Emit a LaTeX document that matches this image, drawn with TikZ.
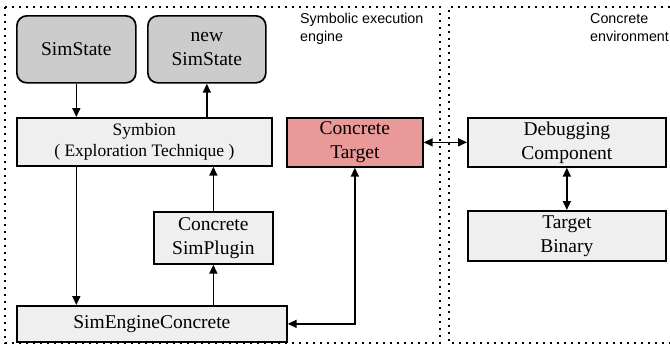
\documentclass[tikz,border=0pt]{standalone}
\usepackage{fontspec}
\setmainfont{Liberation Serif}
\newfontfamily\labelfont{Liberation Sans}
\usetikzlibrary{arrows.meta}
\definecolor{stategray}{RGB}{204,204,204}
\definecolor{boxgray}{RGB}{239,239,239}
\definecolor{targetred}{RGB}{234,153,153}
\begin{document}
\begin{tikzpicture}[x=1pt,y=1pt,
  box/.style={draw=black, line width=1.7pt, fill=boxgray, inner sep=0pt, align=center,
    anchor=north west, font=\fontsize{19.5}{24}\selectfont},
  statebox/.style={box, fill=stategray, rounded corners=10pt},
  region/.style={line width=1.8pt, dash pattern=on 1.8pt off 5.2pt},
  arr/.style={line width=1.7pt, -{Triangle[length=9pt,width=8pt]}},
  biarr/.style={line width=1.7pt, {Triangle[length=9pt,width=8pt]}-{Triangle[length=9pt,width=8pt]}},
  lbl/.style={font=\labelfont\fontsize{14.3}{18}\selectfont, align=left, anchor=north west, inner sep=0pt}]
\useasboundingbox (0,0) rectangle (670,-346);
% regions
\draw[region] (5,-7) rectangle (440,-343);
\draw[region] (670,-7) -- (449,-7) -- (449,-343) -- (670,-343);
\node[lbl] (symlbl) at (300,-13) {Symbolic execution\\engine};
\node[lbl] (conlbl) at (590,-13) {Concrete\\environment};
% boxes
\node[statebox, minimum width=119pt, minimum height=67pt] (simstate) at (16,-15) {SimState};
\node[statebox, minimum width=118pt, minimum height=67pt] (newstate) at (147,-15) {new\\SimState};
\node[box, minimum width=255pt, minimum height=48pt, font=\fontsize{17.5}{20.5}\selectfont] (symbion) at (16,-117) {Symbion\\( Exploration Technique )};
\node[box, fill=targetred, minimum width=136pt, minimum height=49pt] (target) at (286,-117) {Concrete\\Target};
\node[box, minimum width=198pt, minimum height=49pt] (debug) at (467,-117) {Debugging\\Component};
\node[box, minimum width=119pt, minimum height=52pt] (plugin) at (153,-211) {Concrete\\SimPlugin};
\node[box, minimum width=270pt, minimum height=36pt] (engine) at (16,-305) {SimEngineConcrete};
\node[box, minimum width=198pt, minimum height=50pt] (binary) at (467,-210) {Target\\Binary};
% connectors
\draw[arr] (simstate.south) -- (simstate.south |- symbion.north);
\draw[arr] (newstate.south |- symbion.north) -- (newstate.south);
\draw[arr] (simstate.south |- symbion.south) -- (simstate.south |- engine.north);
\draw[arr] (plugin.south |- engine.north) -- (plugin.south);
\draw[arr] (plugin.north) -- (plugin.north |- symbion.south);
\draw[biarr] (target.east) -- (debug.west);
\draw[biarr] (target.south) |- (engine.east);
\draw[biarr] (debug.south) -- (binary.north);
\end{tikzpicture}
\end{document}
